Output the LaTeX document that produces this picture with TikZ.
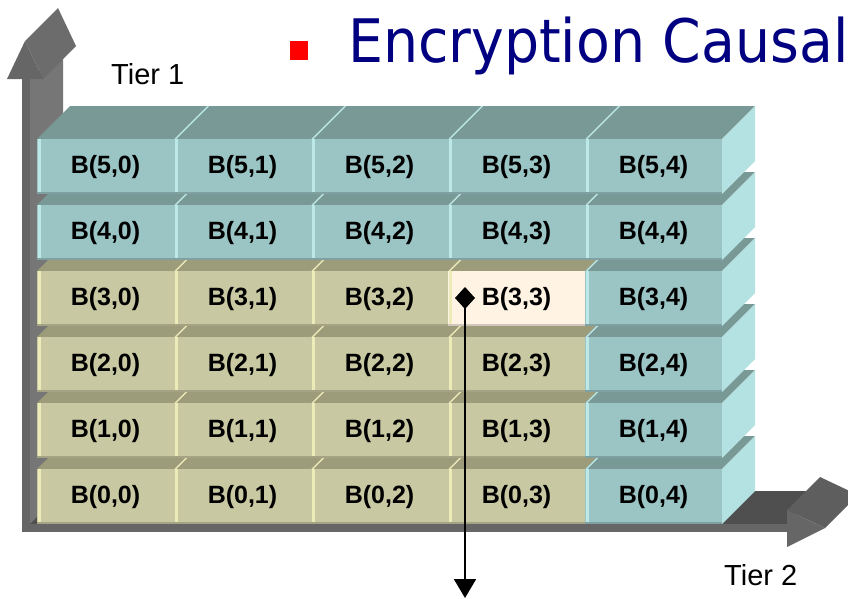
\documentclass[tikz,border=0pt]{standalone}
\usepackage{fontspec}
\usepackage{graphicx}
\setmainfont{Liberation Sans}
\newfontfamily\titlefont{DejaVu Sans}
\usetikzlibrary{arrows.meta}

% block faces
\definecolor{tealF}{HTML}{9BC4C4}
\definecolor{tealT}{HTML}{799996}
\definecolor{tealH}{HTML}{BCE8E8}
\definecolor{tealS}{HTML}{B4E1E1}
\definecolor{oliveF}{HTML}{C8C8A2}
\definecolor{oliveT}{HTML}{9C9B7A}
\definecolor{oliveH}{HTML}{ECECB8}
\definecolor{creamF}{HTML}{FFF4E4}
% axes
\definecolor{axFront}{HTML}{666666}
\definecolor{axSide}{HTML}{767676}
\definecolor{axSlant}{HTML}{6C6C6C}
\definecolor{axTop}{HTML}{4F4F4F}
\definecolor{axHead}{HTML}{5E5E5E}
\definecolor{titleblue}{HTML}{000080}

\tikzset{
  cell/.style={font=\bfseries\fontsize{25}{25}\selectfont, inner sep=0pt},
  tier/.style={font=\fontsize{29}{29}\selectfont, anchor=base west, inner sep=0pt},
  pointer/.style={line width=2pt, {Diamond[length=22pt,width=20pt]}-{Triangle[length=19pt,width=22pt]}}
}

\begin{document}
\begin{tikzpicture}[x=1pt,y=-1pt]
\useasboundingbox (0,0) rectangle (848,598);

% Tier 1 axis (vertical 3D arrow)
\fill[axSide] (30,79) -- (63,46) -- (63,497) -- (30,530) -- cycle;
\fill[axFront] (22,79) rectangle (30,532);
\fill[axSlant] (25,41) -- (58,8) -- (76,46) -- (43,79) -- cycle;
\fill[axFront] (7,79) -- (25,41) -- (43,79) -- cycle;

% Tier 2 axis, top face behind the blocks
\fill[axTop] (30,524) -- (63,491) -- (820,491) -- (787,524) -- cycle;

% stacked blocks, bottom row first so upper rows cover the top faces below
\foreach \r in {0,...,5}{
  \foreach \c in {0,...,4}{
    \pgfmathtruncatemacro\isteal{(\r>3)||(\c==4)}
    \ifnum\isteal=1
      \def\kind{teal}\def\frontc{tealF}
    \else
      \def\kind{olive}\def\frontc{oliveF}
      \ifnum\r=3 \ifnum\c=3 \def\frontc{creamF}\fi\fi
    \fi
    \pgfmathsetmacro\xa{37+137*\c}
    \pgfmathsetmacro\xb{\xa+137}
    \pgfmathsetmacro\ya{469-66*\r}
    \pgfmathsetmacro\yb{\ya+55}
    % top face
    \fill[\kind T] (\xa,\ya) -- (\xa+33,\ya-33) -- (\xb+33,\ya-33) -- (\xb,\ya) -- cycle;
    \ifnum\c>0
      \draw[\kind H, line width=1.3pt] (\xa+1.5,\ya) -- (\xa+34.5,\ya-33);
    \fi
    % right side face of the last column
    \ifnum\c=4
      \fill[tealS] (\xb,\ya) -- (\xb+33,\ya-33) -- (\xb+33,\yb-33) -- (\xb,\yb) -- cycle;
    \fi
    % front face with bevel and shadow
    \fill[\frontc] (\xa,\ya) rectangle (\xb,\yb);
    \fill[\kind H] (\xa+0.5,\ya) rectangle (\xa+3.5,\yb);
    \fill[\frontc!82!black] (\xa,\yb-2) rectangle (\xb,\yb);
    \node[cell] (b\r\c) at ({(\xa+\xb)/2},{(\ya+\yb)/2+1}) {B(\r,\c)};
  }
}

% Tier 2 axis, front shaft and head
\fill[axFront] (22,524) rectangle (787,532);
\fill[axHead] (787,510) -- (820,477) -- (858,495) -- (825,528) -- cycle;
\fill[axFront] (787,510) -- (825,528) -- (787,547) -- cycle;

% axis labels
\node[tier] (tier1) at (111,84) {Tier 1};
\node[tier] (tier2) at (724,585) {Tier 2};

% title with bullet
\fill[red] (290,41) rectangle (308,60);
\node[anchor=base west, inner sep=0pt, text=titleblue,
      font=\titlefont\fontsize{60}{60}\selectfont] (title) at (348,62)
      {\scalebox{0.922}[1]{Encryption Causal}};

% pointer from B(3,3) downwards
\coordinate (diamond) at (465,287);
\coordinate (tip) at (465,598);
\draw[pointer] (diamond) -- (tip);
\end{tikzpicture}
\end{document}
